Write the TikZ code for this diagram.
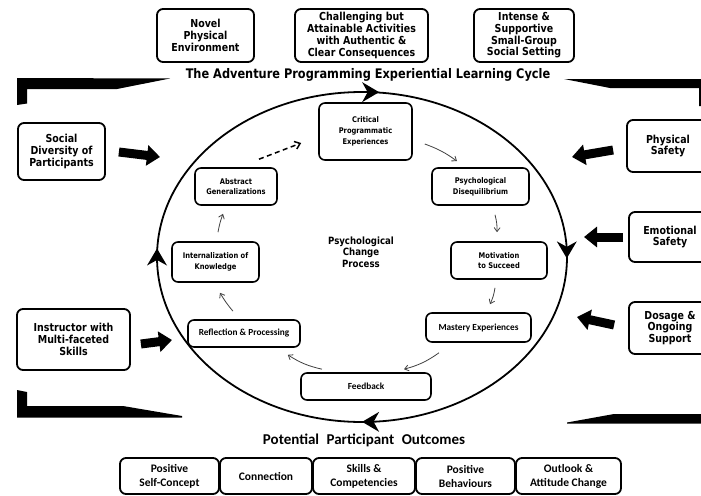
\documentclass[tikz,border=0pt]{standalone}
\usepackage{fontspec}
\usetikzlibrary{arrows.meta,shapes.geometric}
\newfontfamily\tahfont[FakeStretch=0.86]{DejaVu Sans}
\newfontfamily\calfont{Carlito}

\begin{document}
\begin{tikzpicture}[x=1pt,y=-1pt,
  box/.style={draw, line width=1.8pt, rounded corners=6pt, align=center, inner sep=0pt},
  outerbox/.style={box, font=\tahfont\bfseries\fontsize{11}{11.7}\selectfont},
  innerbox/.style={box, line width=1.6pt, font=\tahfont\bfseries\fontsize{7.8}{10.8}\selectfont},
  calbox/.style={box, line width=1.6pt, font=\calfont\bfseries\fontsize{9.3}{10.8}\selectfont},
  outbox/.style={box, font=\calfont\bfseries\fontsize{11.5}{14}\selectfont},
  flow/.style={draw=black!75, line width=0.8pt, -{Straight Barb[length=4pt,width=6pt]}},
  dashflow/.style={draw=black, line width=1.5pt, dash pattern=on 5pt off 3.5pt, -{Straight Barb[length=5pt,width=8pt,line width=1.5pt]}},
  block/.style={draw=black, line width=9pt, -{Triangle[width=20pt,length=13pt]}},
  bracket/.style={fill=black},
  chev/.pic={\fill (8.5,0) -- (-8.5,-10) -- (-3,0) -- (-8.5,10) -- cycle;}
]
\useasboundingbox (0,0) rectangle (701,495);
\clip (0,0) rectangle (701,495);

% brackets framing the cycle
\path[bracket] (17,78) -- (170,78.5) -- (117,89) -- (27,89) -- (27,103.5) -- (17,105) -- cycle;
\path[bracket] (564,79) -- (705,79) -- (705,106) -- (699,106) -- (699,88) -- (610,88) -- cycle;
\path[bracket] (17,390) -- (27,392) -- (27,406) -- (123,406) -- (182,416) -- (182,417.5) -- (17,417.5) -- cycle;
\path[bracket] (567,422.5) -- (614,414) -- (705,414) -- (705,423.5) -- (567,423.5) -- cycle;

% top row of programme elements
\node[outerbox, minimum width=97, minimum height=53] (novel) at (205.5,35.5) {Novel\\Physical\\Environment};
\node[outerbox, minimum width=133, minimum height=53] (chal) at (361.5,35.5) {Challenging but\\Attainable Activities\\with Authentic \&\\Clear Consequences};
\node[outerbox, minimum width=100, minimum height=53] (intense) at (524,35.5) {Intense \&\\Supportive\\Small-Group\\Social Setting};

\node[font=\tahfont\bfseries\fontsize{13.2}{15}\selectfont] (title) at (368,75) {The Adventure Programming Experiential Learning Cycle};

% the cycle
\node[ellipse, draw, line width=1.8pt, minimum width=410, minimum height=330, inner sep=0pt, outer sep=0pt] (cyc) at (362,257) {};
\pic at (cyc.87) {chev};
\pic[rotate=-90] at (cyc.2) {chev};
\pic[rotate=180] at (cyc.-87) {chev};
\pic[rotate=90] at (cyc.west) {chev};

% side influences
\node[outerbox, minimum width=87, minimum height=57] (soc) at (61.5,151.5) {Social\\Diversity of\\Participants};
\node[outerbox, minimum width=113, minimum height=61] (inst) at (73.5,339.5) {Instructor with\\Multi-faceted\\Skills};
\node[outerbox, minimum width=82, minimum height=52] (phys) at (668,146) {Physical\\Safety};
\node[outerbox, minimum width=82, minimum height=50] (emo) at (670,237) {Emotional\\Safety};
\node[outerbox, minimum width=82, minimum height=52] (dos) at (670,328) {Dosage \&\\Ongoing\\Support};

\coordinate (socTip) at (160,157);
\coordinate (instTip) at (172,340);
\coordinate (physTip) at (572,157);
\coordinate (emoTip) at (584,237);
\coordinate (dosTip) at (577,317);
\draw[block] ([shift={(13,0.5)}]soc.east) -- (socTip);
\draw[block] ([shift={(10,4.5)}]inst.east) -- (instTip);
\draw[block] ([shift={(-13,4)}]phys.west) -- (physTip);
\draw[block] ([shift={(-5,0)}]emo.west) -- (emoTip);
\draw[block] ([shift={(-14,-3)}]dos.west) -- (dosTip);

% psychological change process
\node[innerbox, minimum width=93, minimum height=57] (crit) at (365.5,131.5) {Critical\\Programmatic\\Experiences};
\node[innerbox, minimum width=97, minimum height=37] (psy) at (480.5,186.5) {Psychological\\Disequilibrium};
\node[innerbox, minimum width=96, minimum height=37] (mot) at (499,260.5) {Motivation\\to Succeed};
\node[calbox, minimum width=105, minimum height=29] (mas) at (478.5,327.5) {Mastery Experiences};
\node[calbox, minimum width=130, minimum height=27] (fb) at (366,386.5) {Feedback};
\node[calbox, minimum width=112, minimum height=27] (ref) at (244,333.5) {Reflection \& Processing};
\node[innerbox, minimum width=87, minimum height=40] (int) at (215.5,262) {Internalization of\\Knowledge};
\node[innerbox, minimum width=82, minimum height=37] (abs) at (236,186.5) {Abstract\\Generalizations};
\node[align=center, font=\tahfont\bfseries\fontsize{10}{11.5}\selectfont] (pcp) at (361,252) {Psychological\\Change\\Process};

\draw[flow] ([shift={(12,12.5)}]crit.east) to[bend left=8] ([shift={(-23.5,-6)}]psy.north);
\draw[flow] ([shift={(14.5,9)}]psy.south) to[bend left=8] ([shift={(-2,-9)}]mot.north);
\draw[flow] ([shift={(-4,8)}]mot.south) to[bend left=8] ([shift={(11.5,-8)}]mas.north);
\draw[flow] ([shift={(-39.5,10)}]mas.south) to[bend left=10] ([shift={(38,-3)}]fb.north);
\draw[flow] ([shift={(-44,-3)}]fb.north) to[bend left=10] ([shift={(-13,7)}]ref.south east);
\draw[flow] ([shift={(-11,-8)}]ref.north) to[bend left=5] ([shift={(4.5,10)}]int.south);
\draw[flow] ([shift={(2.5,-9)}]int.north) to[bend left=5] ([shift={(-13,8)}]abs.south);
\draw[dashflow] ([shift={(23,-8)}]abs.north) -- ([shift={(-17,11.5)}]crit.west);

% outcomes
\node[font=\calfont\bfseries\fontsize{15}{17}\selectfont] (outc) at (364,440) {Potential\hspace{0.5em}Participant\hspace{0.5em}Outcomes};
\node[outbox, minimum width=99, minimum height=36] (o1) at (169.5,476) {Positive\\Self-Concept};
\node[outbox, minimum width=92, minimum height=36] (o2) at (266,476) {Connection};
\node[outbox, minimum width=102, minimum height=36] (o3) at (364,476) {Skills \&\\Competencies};
\node[outbox, minimum width=99, minimum height=36] (o4) at (465.5,476) {Positive\\Behaviours};
\node[outbox, minimum width=105, minimum height=36] (o5) at (568.5,476) {Outlook \&\\Attitude Change};
\end{tikzpicture}
\end{document}
